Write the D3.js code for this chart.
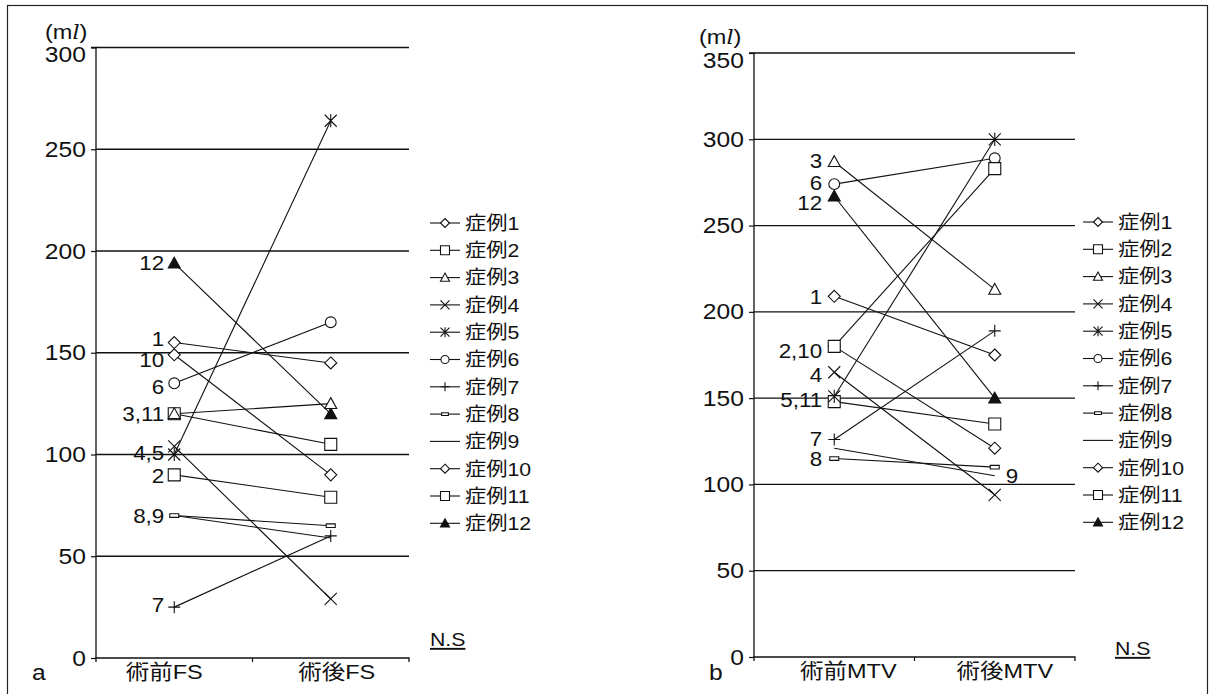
<!DOCTYPE html>
<html>
<head>
<meta charset="utf-8">
<script src="https://cdn.jsdelivr.net/npm/d3@7"></script>
<style>
  html, body { margin: 0; padding: 0; background: #fff; }
  svg { display: block; }
  text { font-family: "Liberation Sans", Arial, "Noto Sans CJK JP", sans-serif; fill: #111; }
</style>
</head>
<body>
<svg id="chart" width="1213" height="694"></svg>
<script>
// ---- data ----
const caseNames = ["症例1","症例2","症例3","症例4","症例5","症例6","症例7","症例8","症例9","症例10","症例11","症例12"];
const markerTypes = ["diamond","square","triangle","cross","asterisk","circle","plus","bar","none","diamond","square","triangleFilled"];

// panel a: FS (ml), before / after surgery
const fsCategories = ["術前FS", "術後FS"];
const fsPre  = [155, 90, 120, 104, 100, 135, 25, 70, 70, 149, 120, 194];
const fsPost = [145, 79, 125, 29, 264, 165, 60, 65, 59, 90, 105, 120];
const fsTicks = [0, 50, 100, 150, 200, 250, 300];
// point labels: text, case index, side
const fsPointLabels = [["12", 11, "pre"], ["1", 0, "pre"], ["10", 9, "pre"], ["6", 5, "pre"], ["3,11", 2, "pre"],
                       ["4,5", 4, "pre"], ["2", 1, "pre"], ["8,9", 7, "pre"], ["7", 6, "pre"]];
// small vertical nudges (px) so stacked labels do not collide
const fsLabelNudge = [0, -4, 5, 4, 0, -2, 1, 0, -2];
const fsCategoryShift = [-10, 6];

// panel b: MTV (ml), before / after surgery
const mtvCategories = ["術前MTV", "術後MTV"];
const mtvPre  = [209, 180, 287, 165, 151, 274, 126, 115, 121, 180, 148, 267];
const mtvPost = [175, 283, 213, 94, 300, 289, 189, 110, 105, 121, 135, 150];
const mtvTicks = [0, 50, 100, 150, 200, 250, 300, 350];
const mtvPointLabels = [["3", 2, "pre"], ["6", 5, "pre"], ["12", 11, "pre"], ["1", 0, "pre"], ["2,10", 1, "pre"],
                        ["4", 3, "pre"], ["5,11", 4, "pre"], ["7", 6, "pre"], ["8", 7, "pre"], ["9", 8, "post"]];
const mtvLabelNudge = [-1, -1, 7, 0, 4, 3, 3, -1, 0, 0];
const mtvCategoryShift = [14, 10];

const unitLabel = "(m";
const sigLabel = "N.S";

// ---- drawing ----
const SX = 1.12;   // glyphs are set slightly wide
const svg = d3.select("#chart");

// outer frame
svg.append("rect").attr("x", 7.5).attr("y", 5.5).attr("width", 1200).attr("height", 700)
  .attr("fill", "none").attr("stroke", "#222").attr("stroke-width", 1.2);

function addText(parent, x, y, str, size, anchor, family) {
  const t = parent.append("g").attr("transform", `translate(${x},${y}) scale(${SX},1)`)
    .append("text").attr("font-size", size).attr("text-anchor", anchor || "start").text(str);
  if (family) t.attr("font-family", family);
  return t;
}

function markerPath(type, s) {
  // s = half size
  switch (type) {
    case "diamond": return `M0,${-s}L${s},0L0,${s}L${-s},0Z`;
    case "square": return `M${-s},${-s}H${s}V${s}H${-s}Z`;
    case "triangle":
    case "triangleFilled": return `M0,${-s}L${s},${s*0.8}L${-s},${s*0.8}Z`;
    case "cross": return `M${-s},${-s}L${s},${s}M${s},${-s}L${-s},${s}`;
    case "asterisk": return `M${-s},${-s}L${s},${s}M${s},${-s}L${-s},${s}M0,${-s*1.1}V${s*1.1}`;
    case "plus": return `M${-s},0H${s}M0,${-s}V${s}`;
    case "bar": return `M${-s*0.75},${-s*0.3}H${s*0.75}V${s*0.3}H${-s*0.75}Z`;
    default: return "";
  }
}

function drawMarker(g, type, x, y, s) {
  if (type === "none") return;
  if (type === "circle") {
    g.append("circle").attr("cx", x).attr("cy", y).attr("r", s * 0.9)
      .attr("fill", "#fff").attr("stroke", "#111").attr("stroke-width", 1.1);
    return;
  }
  const open = ["diamond","square","triangle","bar"].includes(type);
  g.append("path").attr("d", markerPath(type, s))
    .attr("transform", `translate(${x},${y})`)
    .attr("fill", type === "triangleFilled" ? "#111" : (open ? "#fff" : "none"))
    .attr("stroke", "#111").attr("stroke-width", 1.1);
}

function drawPanel(opt) {
  const g = svg.append("g");
  const y = d3.scaleLinear().domain([0, opt.yMax]).range([opt.bottom, opt.top]);
  const x = d3.scaleBand().domain(opt.categories).range([opt.left, opt.right]);
  const cx = c => x(c) + x.bandwidth() / 2;

  // horizontal gridlines
  g.selectAll("line.grid").data(opt.ticks.filter(t => t > 0)).join("line")
    .attr("x1", opt.left).attr("x2", opt.right)
    .attr("y1", d => y(d)).attr("y2", d => y(d))
    .attr("stroke", "#111").attr("stroke-width", 1.3);

  // y axis
  const yAxis = d3.axisLeft(y).tickValues(opt.ticks).tickSize(5).tickPadding(4).tickFormat(d3.format("d"));
  const ya = g.append("g").attr("transform", `translate(${opt.left},0)`).call(yAxis);
  ya.select(".domain").attr("d", `M-5,${opt.top}H0V${opt.bottom}`).attr("stroke", "#111").attr("stroke-width", 1.3);
  ya.selectAll(".tick line").attr("stroke", "#111").attr("stroke-width", 1.2);
  ya.selectAll(".tick text").attr("font-size", 22).attr("fill", "#111")
    .attr("font-family", '"Liberation Sans", Arial, sans-serif')
    .attr("transform", d => `translate(0,${d === opt.yMax ? 7 : 0}) scale(${SX},1)`);

  // x axis
  const xAxis = d3.axisBottom(x).tickSize(0).tickPadding(6);
  const xa = g.append("g").attr("transform", `translate(0,${opt.bottom})`).call(xAxis);
  xa.select(".domain").attr("stroke", "#111").attr("stroke-width", 1.3)
    .attr("d", `M${opt.left},4V0H${opt.right}V4`);
  xa.selectAll(".tick text").attr("font-size", 21).attr("fill", "#111")
    .attr("font-family", '"Liberation Sans", "Noto Sans CJK JP", sans-serif')
    .attr("dy", "0.72em")
    .attr("transform", (d, i) => `translate(${opt.catShift[i]},0) scale(${SX},1)`);
  // divider tick between the two categories
  g.append("line").attr("x1", x(opt.categories[1])).attr("x2", x(opt.categories[1]))
    .attr("y1", opt.bottom).attr("y2", opt.bottom + 4).attr("stroke", "#111").attr("stroke-width", 1.2);

  // unit label
  const u = addText(g, opt.unitX, opt.top - 9, null, 21, "start");
  u.append("tspan").text(unitLabel);
  u.append("tspan").attr("font-style", "italic").attr("font-family", '"DejaVu Serif", serif').attr("font-size", 20).text("l");
  u.append("tspan").text(")");

  // series lines
  const x0 = cx(opt.categories[0]), x1 = cx(opt.categories[1]);
  opt.pre.forEach((v, i) => {
    g.append("line").attr("x1", x0).attr("y1", y(v)).attr("x2", x1).attr("y2", y(opt.post[i]))
      .attr("stroke", "#111").attr("stroke-width", 1.1);
  });
  // markers (later cases first so that early ones sit on top)
  for (let i = opt.pre.length - 1; i >= 0; i--) {
    drawMarker(g, markerTypes[i], x0, y(opt.pre[i]), 6);
    drawMarker(g, markerTypes[i], x1, y(opt.post[i]), 6);
  }

  // point labels
  opt.pointLabels.forEach(([t, i, side], k) => {
    const isPre = side === "pre";
    const v = isPre ? opt.pre[i] : opt.post[i];
    addText(g, isPre ? x0 - opt.labelGap : x1 + 11, y(v) + opt.nudge[k], t, 20, isPre ? "end" : "start")
      .attr("dy", "0.36em");
  });

  // legend
  const lg = g.append("g");
  caseNames.forEach((name, i) => {
    const ly = opt.legendTop + i * 27.3;
    lg.append("line").attr("x1", opt.legendX).attr("x2", opt.legendX + 30)
      .attr("y1", ly).attr("y2", ly).attr("stroke", "#111").attr("stroke-width", 1.1);
    drawMarker(lg, markerTypes[i], opt.legendX + 15, ly, 4.5);
    addText(lg, opt.legendX + 35, ly, name, 19, "start", '"Noto Sans CJK JP", "Liberation Sans", sans-serif')
      .attr("dy", "0.36em");
  });

  // significance note
  addText(g, opt.nsX, opt.nsY, sigLabel, 19, "start").attr("text-decoration", "underline");

  // panel letter
  addText(g, opt.letterX, 680, opt.letter, 22, "start");
}

drawPanel({
  categories: fsCategories, pre: fsPre, post: fsPost, ticks: fsTicks, yMax: 300,
  left: 96, right: 409, top: 47.5, bottom: 658, catShift: fsCategoryShift,
  pointLabels: fsPointLabels, nudge: fsLabelNudge, labelGap: 10,
  unitX: 45, legendX: 430, legendTop: 223,
  nsX: 430, nsY: 646, letter: "a", letterX: 32
});

drawPanel({
  categories: mtvCategories, pre: mtvPre, post: mtvPost, ticks: mtvTicks, yMax: 350,
  left: 754, right: 1075, top: 53, bottom: 657, catShift: mtvCategoryShift,
  pointLabels: mtvPointLabels, nudge: mtvLabelNudge, labelGap: 12,
  unitX: 699, legendX: 1083, legendTop: 222,
  nsX: 1115, nsY: 655, letter: "b", letterX: 709
});
</script>
</body>
</html>
